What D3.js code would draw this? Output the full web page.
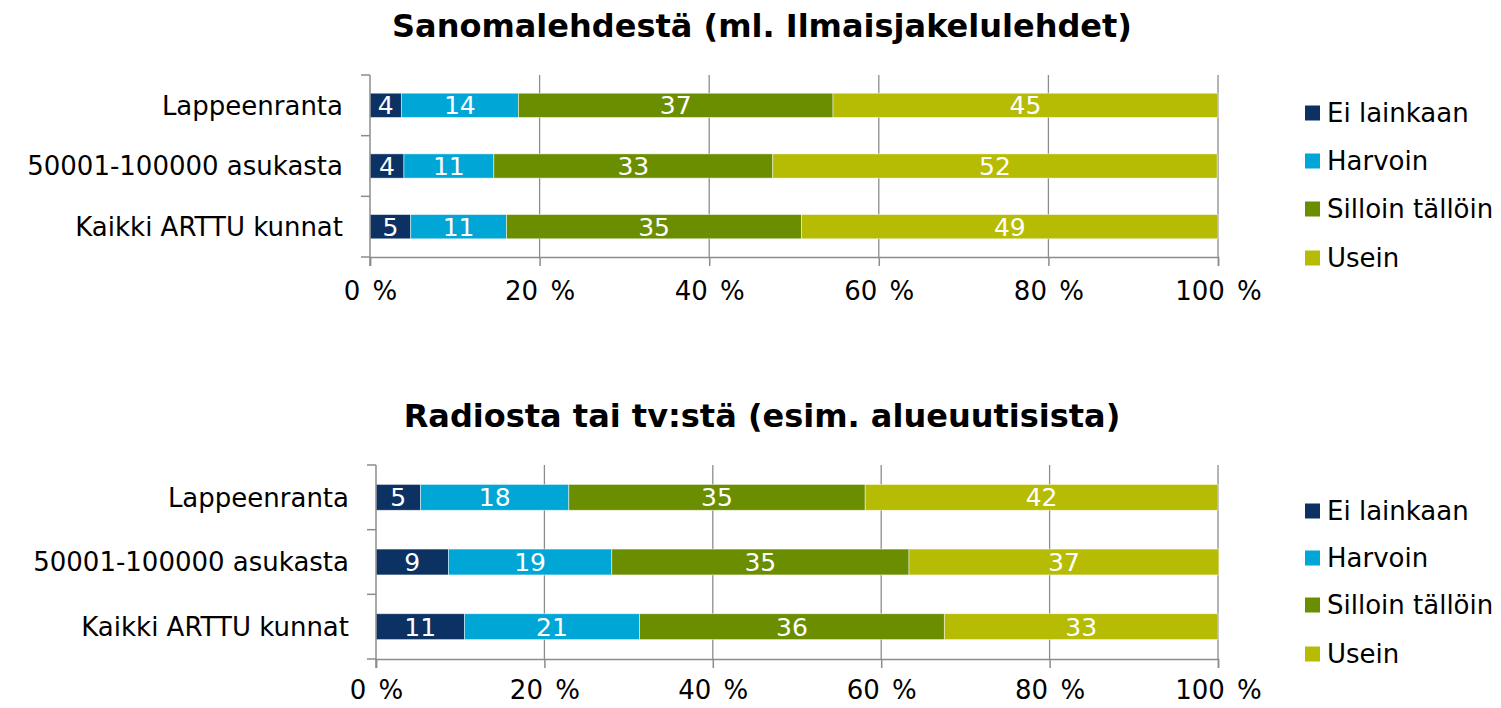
<!DOCTYPE html>
<html><head><meta charset="utf-8">
<script src="https://cdn.jsdelivr.net/npm/d3@7"></script>
<style>body{margin:0;background:#fff}svg{display:block}text{font-family:"DejaVu Sans",Verdana,sans-serif}</style>
</head><body>
<svg id="c" width="1501" height="708"></svg>
<script>
const categories = ["Lappeenranta", "50001-100000 asukasta", "Kaikki ARTTU kunnat"];
const seriesNames = ["Ei lainkaan", "Harvoin", "Silloin tällöin", "Usein"];
const colors = ["#0b3262", "#00a6d6", "#6a8e00", "#b6bb04"];
const xTicks = [0, 20, 40, 60, 80, 100];
// panel 1: Sanomalehdestä
const title1 = "Sanomalehdestä (ml. Ilmaisjakelulehdet)";
const p1EiLainkaan = [3.7, 4.0, 4.8];
const p1Harvoin = [13.8, 10.6, 11.3];
const p1Silloin = [37.1, 32.9, 34.8];
const p1Usein = [45.4, 52.4, 49.1];
// panel 2: Radiosta tai tv:stä
const title2 = "Radiosta tai tv:stä (esim. alueuutisista)";
const p2EiLainkaan = [5.3, 8.6, 10.5];
const p2Harvoin = [17.6, 19.4, 20.8];
const p2Silloin = [35.2, 35.3, 36.2];
const p2Usein = [41.9, 36.8, 32.5];

const svg = d3.select("#c");

function panel(cfg) {
  const {title, series, x0, x1, y0, y1, titleY, labelGap, tickLabelDy, legendYs} = cfg;
  const x = d3.scaleLinear().domain([0, 100]).range([x0, x1]);
  const y = d3.scaleBand().domain(categories).range([y0, y1]).paddingInner(0.6).paddingOuter(0.3);
  const g = svg.append("g");
  g.append("text").attr("x", 762).attr("y", titleY).attr("text-anchor", "middle")
    .attr("font-size", 32).attr("font-weight", "bold").attr("fill", "#000").text(title);
  // gridlines
  g.selectAll(".grid").data(xTicks.slice(1)).join("line")
    .attr("x1", d => x(d)).attr("x2", d => x(d)).attr("y1", y0).attr("y2", y1)
    .attr("stroke", "#8c8c8c").attr("stroke-width", 1.3);
  // stacked bars
  const rows = categories.map((c, i) => {
    const o = {cat: c};
    seriesNames.forEach((s, j) => o[s] = series[j][i]);
    return o;
  });
  const stack = d3.stack().keys(seriesNames)(rows);
  stack.forEach((layer, j) => {
    const lg = g.append("g");
    lg.selectAll("rect").data(layer).join("rect")
      .attr("x", d => x(d[0])).attr("width", d => x(d[1]) - x(d[0]))
      .attr("y", d => y(d.data.cat)).attr("height", y.bandwidth())
      .attr("fill", colors[j]).attr("stroke", "#ffffff").attr("stroke-opacity", 0.6).attr("stroke-width", 0.8);
    lg.selectAll("text").data(layer).join("text")
      .attr("x", d => (x(d[0]) + x(d[1])) / 2).attr("y", d => y(d.data.cat) + y.bandwidth() / 2)
      .attr("dy", "0.36em").attr("text-anchor", "middle").attr("font-size", 25).attr("fill", "#fff")
      .text(d => Math.round(d[1] - d[0]));
  });
  // y axis
  const yAxisLine = g.append("g");
  yAxisLine.append("line").attr("x1", x0).attr("x2", x0).attr("y1", y0).attr("y2", y1 + 9)
    .attr("stroke", "#8c8c8c").attr("stroke-width", 1.5);
  const bounds = [y0].concat(categories.map(c => y(c) + y.bandwidth() + y.step() * 0.3));
  yAxisLine.selectAll(".yt").data(bounds).join("line")
    .attr("x1", x0 - 9).attr("x2", x0).attr("y1", d => d).attr("y2", d => d)
    .attr("stroke", "#8c8c8c").attr("stroke-width", 1.5);
  yAxisLine.selectAll(".yl").data(categories).join("text")
    .attr("x", x0 - labelGap).attr("y", d => y(d) + y.bandwidth() / 2).attr("dy", "0.36em")
    .attr("text-anchor", "end").attr("font-size", 26).attr("fill", "#000").text(d => d);
  // x axis
  const xa = g.append("g").attr("transform", `translate(0,${y1})`)
    .call(d3.axisBottom(x).tickValues(xTicks).tickSize(9).tickPadding(tickLabelDy).tickFormat(d => d + " %"));
  xa.select(".domain").attr("stroke", "#8c8c8c").attr("stroke-width", 1.5);
  xa.selectAll(".tick line").attr("stroke", "#8c8c8c").attr("stroke-width", 1.5);
  xa.selectAll(".tick text").attr("font-size", 26).attr("fill", "#000")
    .style("font-family", '"DejaVu Sans",Verdana,sans-serif').attr("xml:space", "preserve").attr("word-spacing", 4);
  // legend
  const lgd = g.append("g");
  seriesNames.forEach((s, j) => {
    lgd.append("rect").attr("x", 1305).attr("y", legendYs[j] - 7.5).attr("width", 15).attr("height", 15).attr("fill", colors[j]);
    lgd.append("text").attr("x", 1327).attr("y", legendYs[j]).attr("dy", "0.36em")
      .attr("font-size", 26).attr("fill", "#000").text(s);
  });
}

panel({title: title1, series: [p1EiLainkaan, p1Harvoin, p1Silloin, p1Usein],
  x0: 370, x1: 1218, y0: 75, y1: 257, titleY: 37, labelGap: 27, tickLabelDy: 16,
  legendYs: [113, 161, 209, 258]});
panel({title: title2, series: [p2EiLainkaan, p2Harvoin, p2Silloin, p2Usein],
  x0: 376, x1: 1218, y0: 465, y1: 659, titleY: 427, labelGap: 27, tickLabelDy: 13,
  legendYs: [511, 558, 605, 654]});
</script>
</body></html>
